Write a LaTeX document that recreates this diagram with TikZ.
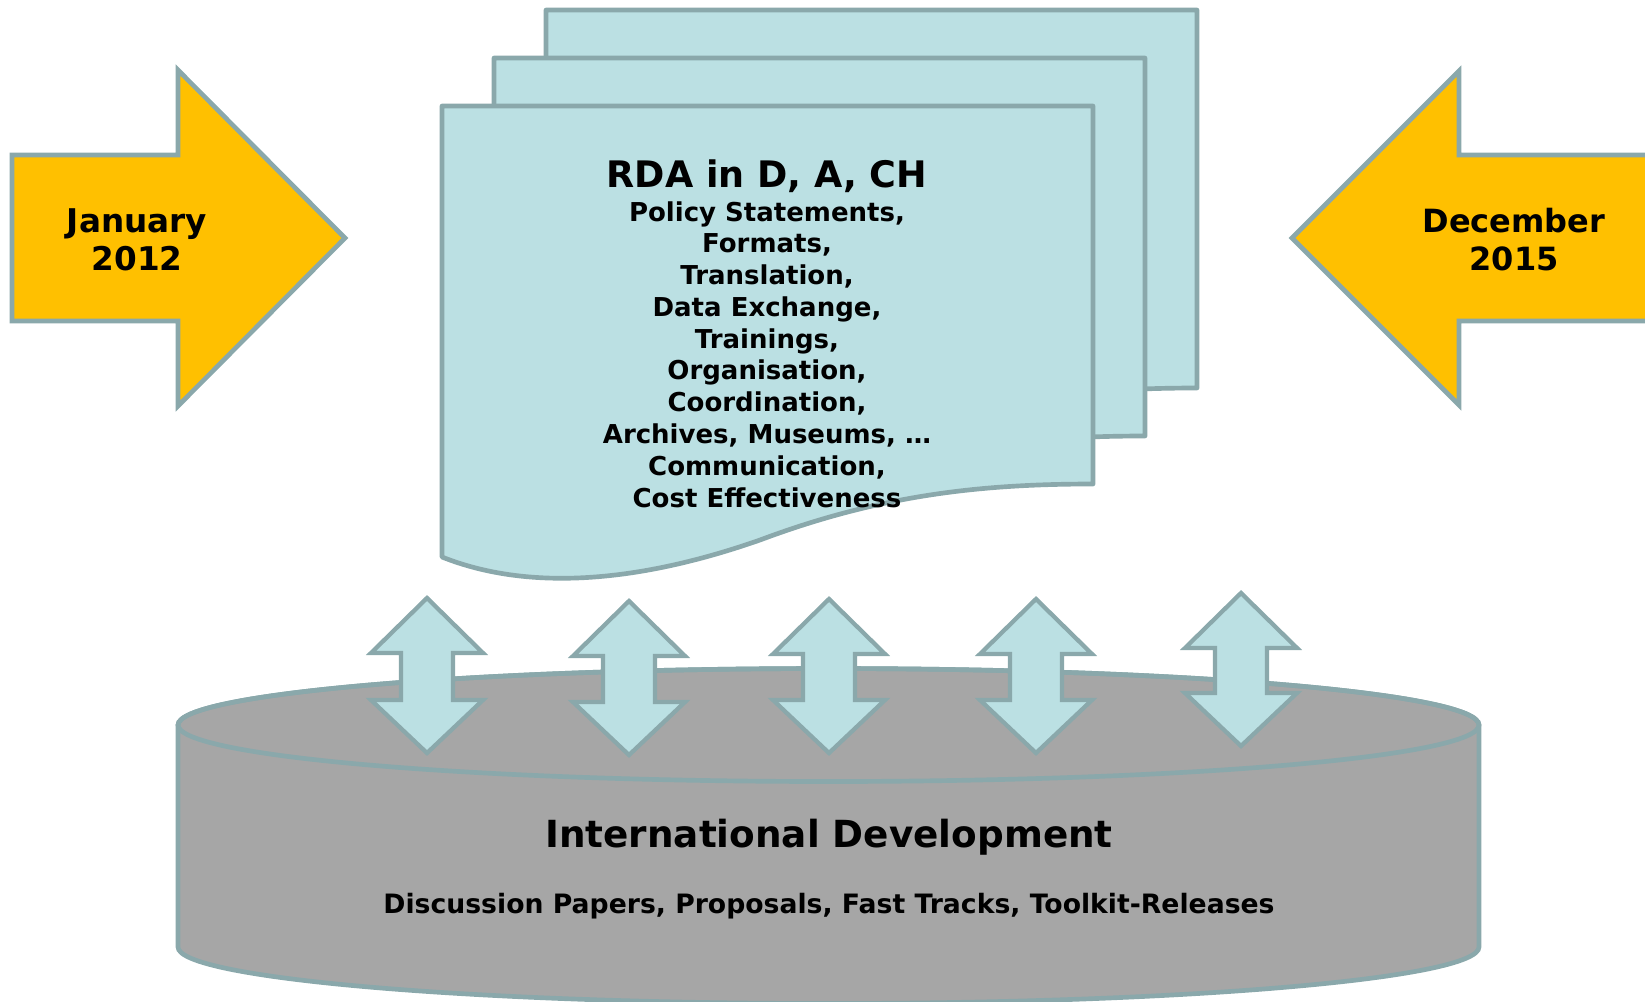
\documentclass[tikz,border=0pt]{standalone}
\usepackage{fontspec}
\setmainfont{DejaVu Sans}
\definecolor{edge}{HTML}{8AA8AB}
\definecolor{gold}{HTML}{FFC000}
\definecolor{paper}{HTML}{BBE0E3}
\definecolor{cylgray}{HTML}{A6A6A6}
\begin{document}
\begin{tikzpicture}[x=0.75pt,y=-0.75pt,
  outline/.style={draw=edge,line width=3.5pt},
  datearrow/.style={outline,fill=gold},
  pagestyle/.style={outline,fill=paper,line join=round},
  cylstyle/.style={outline,fill=cylgray},
  dblarrow/.style={outline,fill=paper,line width=3.2pt},
  txt/.style={anchor=base,inner sep=0pt,font=\bfseries},
  docpage/.pic={\path[pagestyle] (442,106) -- (1093,106) -- (1093,484)
      .. controls (980,484) and (880,495) .. (760,540)
      .. controls (640,582) and (530,592) .. (442,557) -- cycle;}
]
\useasboundingbox (0,0) rectangle (1645,1001);
\clip (0,0) rectangle (1645,1001);

% date arrows
\path[datearrow] (12,155) -- (178,155) -- (178,70) -- (345,238) -- (178,406) -- (178,321) -- (12,321) -- cycle;
\path[datearrow] (1665,155) -- (1459,155) -- (1459,71) -- (1292,238) -- (1459,405) -- (1459,321) -- (1665,321) -- cycle;
\node[txt,font=\bfseries\fontsize{24.5pt}{28pt}\selectfont] (jan) at (137,232) {January};
\node[txt,font=\bfseries\fontsize{24.5pt}{28pt}\selectfont] (y2012) at (137,270) {2012};
\node[txt,font=\bfseries\fontsize{24pt}{28pt}\selectfont] (dec) at (1514,232) {December};
\node[txt,font=\bfseries\fontsize{24pt}{28pt}\selectfont] (y2015) at (1514,270) {2015};

% stacked pages
\pic at (104,-96) {docpage};
\pic at (52,-48) {docpage};
\pic at (0,0) {docpage};
\node[txt,font=\bfseries\fontsize{27.4pt}{32pt}\selectfont] (title) at (767,187) {RDA in D, A, CH};
\foreach \t [count=\i from 0] in {{Policy Statements,},{Formats,},{Translation,},{Data Exchange,},{Trainings,},{Organisation,},{Coordination,},{Archives, Museums, \dots},{Communication,},{Cost Effectiveness}}{
  \node[txt,font=\bfseries\fontsize{19.5pt}{24pt}\selectfont] (line\i) at (767,{221+31.78*\i}) {\t};
}

% cylinder
\path[cylstyle] (178,725) -- (178,947) arc[start angle=180,end angle=0,x radius=650.5,y radius=56.5]
  -- (1479,725) arc[start angle=0,end angle=-180,x radius=650.5,y radius=56.5] -- cycle;
\path[outline] (828.5,725) ellipse [x radius=650.5,y radius=56.5];
\node[txt,font=\bfseries\fontsize{28pt}{32pt}\selectfont] (intl) at (829,847) {International Development};
\node[txt,font=\bfseries\fontsize{20pt}{24pt}\selectfont] (disc) at (829,913) {Discussion Papers, Proposals, Fast Tracks, Toolkit-Releases};

% double arrows
\foreach \cx/\ty/\by in {427/598/753, 629/601/755, 829/599/753, 1036/599/753, 1241/593/746}{
  \path[dblarrow] (\cx,\ty) -- (\cx+56,\ty+55) -- (\cx+26,\ty+55) -- (\cx+26,\by-53)
    -- (\cx+56,\by-53) -- (\cx,\by) -- (\cx-56,\by-53) -- (\cx-26,\by-53)
    -- (\cx-26,\ty+55) -- (\cx-56,\ty+55) -- cycle;
}
\end{tikzpicture}
\end{document}
